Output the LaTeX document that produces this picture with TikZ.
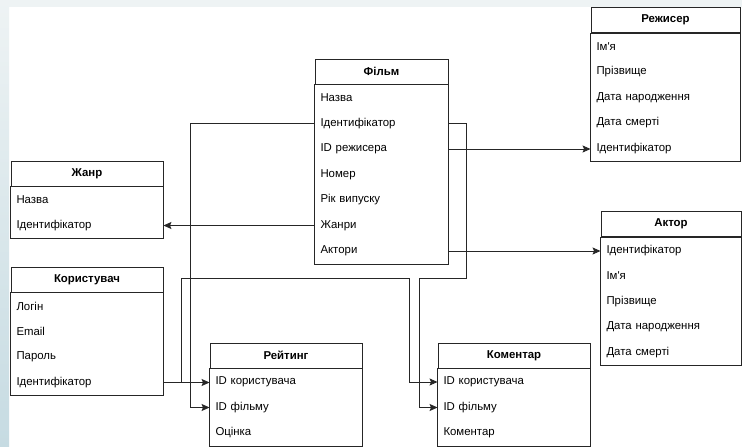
\documentclass[tikz,border=0pt]{standalone}
\usepackage{fontspec}
\setmainfont{Liberation Sans}
\usepackage{tikz}
\usetikzlibrary{shapes,arrows,arrows.meta,calc}
\definecolor{slidetop}{HTML}{EEF3F4}
\definecolor{slideleft}{HTML}{C6DBE2}
\newcommand{\erfont}{\fontsize{11.4}{13}\selectfont}
\tikzstyle{line} = [draw, -{Stealth[length=8pt, width=7pt, inset=1.5pt]}]
\tikzstyle{head} = [draw, rectangle, text centered, minimum height=25pt, inner sep=0pt, font=\erfont\bfseries]
\tikzstyle{field} = [rectangle, minimum height=25.5pt, inner xsep=5.5pt, inner ysep=0pt, text width=#1, align=left, font=\erfont]
\tikzstyle{first} = [node distance=26.5pt]

\begin{document}
\begin{tikzpicture}[x=1pt, y=-1pt, node distance=25.5pt, line width=0.9pt, draw=black!85]
        \useasboundingbox (0,0) rectangle (742,447);
        \fill[white] (0,0) rectangle (742,447);
        \fill[slidetop] (0,0) rectangle (742,7);
        \fill[top color=slidetop, bottom color=slideleft, draw=none] (0,0) rectangle (9,447);

        % Фільм
        \node[head, minimum width=133pt] at (381.5,71.5) (film) {Фільм};
        \node[field=122pt, first, below of=film] (f1) {Назва};
        \node[field=122pt, below of=f1] (f2) {Ідентифікатор};
        \node[field=122pt, below of=f2] (f3) {ID режисера};
        \node[field=122pt, below of=f3] (f4) {Номер};
        \node[field=122pt, below of=f4] (f5) {Рік випуску};
        \node[field=122pt, below of=f5] (f6) {Жанри};
        \node[field=122pt, below of=f6] (f7) {Актори};
        \draw (film.south west) rectangle (f7.south east);

        % Режисер
        \node[head, minimum width=149pt] at (665.5,20) (rez) {Режисер};
        \node[field=138pt, first, below of=rez] (rez1) {Ім\textquotesingle я};
        \node[field=138pt, below of=rez1] (rez2) {Прізвище};
        \node[field=138pt, below of=rez2] (rez3) {Дата народження};
        \node[field=138pt, below of=rez3] (rez4) {Дата смерті};
        \node[field=138pt, below of=rez4] (rez5) {Ідентифікатор};
        \draw (rez.south west) rectangle (rez5.south east);

        % Жанр
        \node[head, minimum width=152pt] at (87,173.5) (zhanr) {Жанр};
        \node[field=141pt, first, below of=zhanr] (zh1) {Назва};
        \node[field=141pt, below of=zh1] (zh2) {Ідентифікатор};
        \draw (zhanr.south west) rectangle (zh2.south east);

        % Користувач
        \node[head, minimum width=152pt] at (87,279.5) (kor) {Користувач};
        \node[field=141pt, first, below of=kor] (kor1) {Логін};
        \node[field=141pt, below of=kor1] (kor2) {Email};
        \node[field=141pt, below of=kor2] (kor3) {Пароль};
        \node[field=141pt, below of=kor3] (kor4) {Ідентифікатор};
        \draw (kor.south west) rectangle (kor4.south east);

        % Актор
        \node[head, minimum width=140pt] at (671,224) (aktor) {Актор};
        \node[field=129pt, first, below of=aktor] (ak1) {Ідентифікатор};
        \node[field=129pt, below of=ak1] (ak2) {Ім\textquotesingle я};
        \node[field=129pt, below of=ak2] (ak3) {Прізвище};
        \node[field=129pt, below of=ak3] (ak4) {Дата народження};
        \node[field=129pt, below of=ak4] (ak5) {Дата смерті};
        \draw (aktor.south west) rectangle (ak5.south east);

        % Рейтинг
        \node[head, minimum width=152pt] at (286,355.5) (reyt) {Рейтинг};
        \node[field=141pt, first, below of=reyt] (r1) {ID користувача};
        \node[field=141pt, below of=r1] (r2) {ID фільму};
        \node[field=141pt, below of=r2] (r3) {Оцінка};
        \draw (reyt.south west) rectangle (r3.south east);

        % Коментар
        \node[head, minimum width=152pt] at (514,355.5) (kom) {Коментар};
        \node[field=141pt, first, below of=kom] (k1) {ID користувача};
        \node[field=141pt, below of=k1] (k2) {ID фільму};
        \node[field=141pt, below of=k2] (k3) {Коментар};
        \draw (kom.south west) rectangle (k3.south east);

        \path[line] (f3.east) -- (f3.east -| rez5.west);
        \path[line] (f6.west) -- (f6.west -| zh2.east);
        \path[line] (f7.east) -- (f7.east -| ak1.west);
        \path[line] (f2.west) -- +(-124,0) |- (r2.west);
        \path[line] (f2.east) -- +(18,0) -- +(18,155) -- +(-29,155) |- (k2.west);
        \path[line] (kor4.east) -- (kor4.east -| r1.west);
        \path[line] (kor4.east) -- +(18,0) -- +(18,-104.5) -- +(246,-104.5) |- (k1.west);
    \end{tikzpicture}
\end{document}
